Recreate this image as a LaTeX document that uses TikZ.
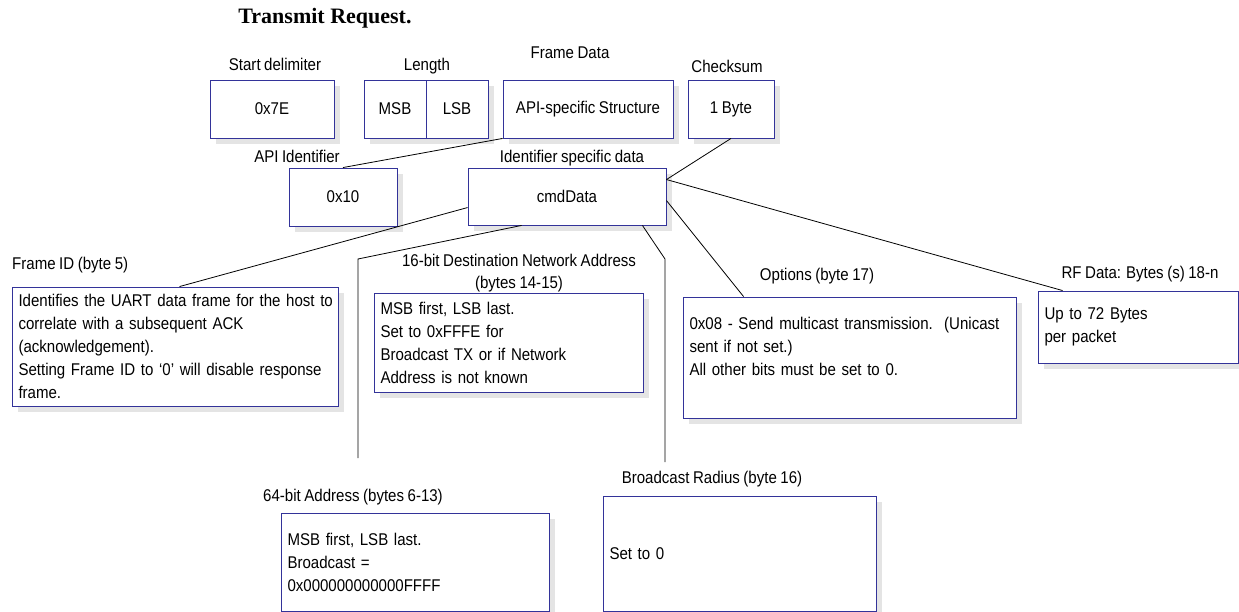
\documentclass[tikz,border=0pt]{standalone}
\usepackage{fontspec}
\newfontfamily\dfont{Liberation Sans}[FakeStretch=0.885, WordSpace=0.85]
\newfontfamily\tfont{Liberation Serif}
\usetikzlibrary{shadows,calc}
\definecolor{boxblue}{RGB}{51,51,153}
\definecolor{shadowgray}{RGB}{228,228,228}
\tikzset{
  box/.style={draw=boxblue, line width=0.9pt, fill=white,
    general shadow={fill=shadowgray, shadow xshift=6pt, shadow yshift=-6pt},
    inner xsep=6.5pt, inner ysep=0pt},
  lbl/.style={anchor=base},
  conn/.style={draw=black, line width=0.8pt}
}
\begin{document}
\begin{tikzpicture}[x=1pt,y=-1pt,
  every node/.style={font=\dfont\fontsize{17}{23}\selectfont, inner sep=0pt}]
\useasboundingbox (0,0) rectangle (1239,612);
\fill[white] (0,0) rectangle (1239,612);

% title
\node[lbl, font=\tfont\bfseries\fontsize{22}{26}\selectfont] (title) at (325,24) {Transmit Request.};

% top row
\node[lbl] (lsd) at (275,71) {Start delimiter};
\node[box, minimum width=124pt, minimum height=58pt] (sd) at (272,109) {0x7E};
\node[lbl] (llen) at (427,71) {Length};
\node[box, minimum width=62pt, minimum height=58pt] (msb) at (395,109) {MSB};
\node[box, minimum width=62pt, minimum height=58pt] (lsb) at (457,109) {LSB};
\node[lbl] (lfd) at (570,59) {Frame Data};
\node[box, minimum width=170pt, minimum height=58pt] (fd) at (588,109) {API-specific Structure};
\node[lbl] (lcs) at (727,73) {Checksum};
\node[box, minimum width=86pt, minimum height=58pt] (cs) at (731,109) {1 Byte};

% second row
\node[lbl] (lapi) at (297,163) {API Identifier};
\node[box, minimum width=108pt, minimum height=58pt] (api) at (343,197) {0x10};
\node[lbl] (lcmd) at (572,163) {Identifier specific data};
\node[box, minimum width=198pt, minimum height=57pt] (cmd) at (567,196.5) {cmdData};

% detail boxes
\node[lbl, anchor=base west] (lfid) at (12,270) {Frame ID (byte 5)};
\node[box, minimum width=326pt, minimum height=119pt, text width=313pt, align=left] (fid) at (175,346.5)
  {\makebox[313pt][l]{Identifies the UART data frame for the host to}\\correlate with a subsequent ACK\\(acknowledgement).\\Setting Frame ID to ‘0’ will disable response\\frame.};

\node[lbl] (lnwa1) at (519,267) {16-bit Destination Network Address};
\node[lbl] (lnwa2) at (519,289) {(bytes 14-15)};
\node[box, minimum width=269pt, minimum height=99pt, text width=256pt, align=left] (nwa) at (508.5,342.5)
  {MSB first, LSB last.\\Set to 0xFFFE for\\Broadcast TX or if Network\\Address is not known};

\node[lbl] (lopt) at (817,280) {Options (byte 17)};
\node[box, minimum width=333pt, minimum height=121pt, text width=320pt, align=left] (opt) at (849.5,357.5)
  {0x08 - Send multicast transmission.\ \ (Unicast\\sent if not set.)\\All other bits must be set to 0.\\~};

\node[lbl] (lrf) at (1140,279) {RF Data: Bytes (s) 18-n};
\node[box, minimum width=200pt, minimum height=72pt, text width=187pt, align=left] (rf) at (1138,327)
  {Up to 72 Bytes\\per packet};

\node[lbl] (la64) at (353,501) {64-bit Address (bytes 6-13)};
\node[box, minimum width=268pt, minimum height=98pt, text width=255pt, align=left] (a64) at (415,562)
  {MSB first, LSB last.\\Broadcast =\\0x000000000000FFFF};

\node[lbl] (lbr) at (712,483) {Broadcast Radius (byte 16)};
\node[box, minimum width=273pt, minimum height=115pt, text width=260pt, align=left] (br) at (739.5,553.5)
  {Set to 0};

% free ends of the two open connectors
\coordinate (nwaA) at (358,259);
\coordinate (nwaB) at (358,458);
\coordinate (brA) at (665,259);
\coordinate (brB) at (665,462);

% connectors
\draw[conn] (fd.south west) -- (api.north);
\draw[conn] (cs.south) -- ([yshift=-12pt]cmd.north east);
\draw[conn] ([yshift=-12pt]cmd.north east) -- ([xshift=25pt]rf.north west);
\draw[conn] ([yshift=-33pt]cmd.north east) -- ([xshift=61pt]opt.north west);
\draw[conn] ([yshift=-40pt]cmd.north west) -- ([xshift=168pt]fid.north west);
\draw[conn] ([xshift=54pt]cmd.south west) -- (nwaA) -- (nwaB);
\draw[conn] ([xshift=-24pt]cmd.south east) -- (brA) -- (brB);
\end{tikzpicture}
\end{document}
